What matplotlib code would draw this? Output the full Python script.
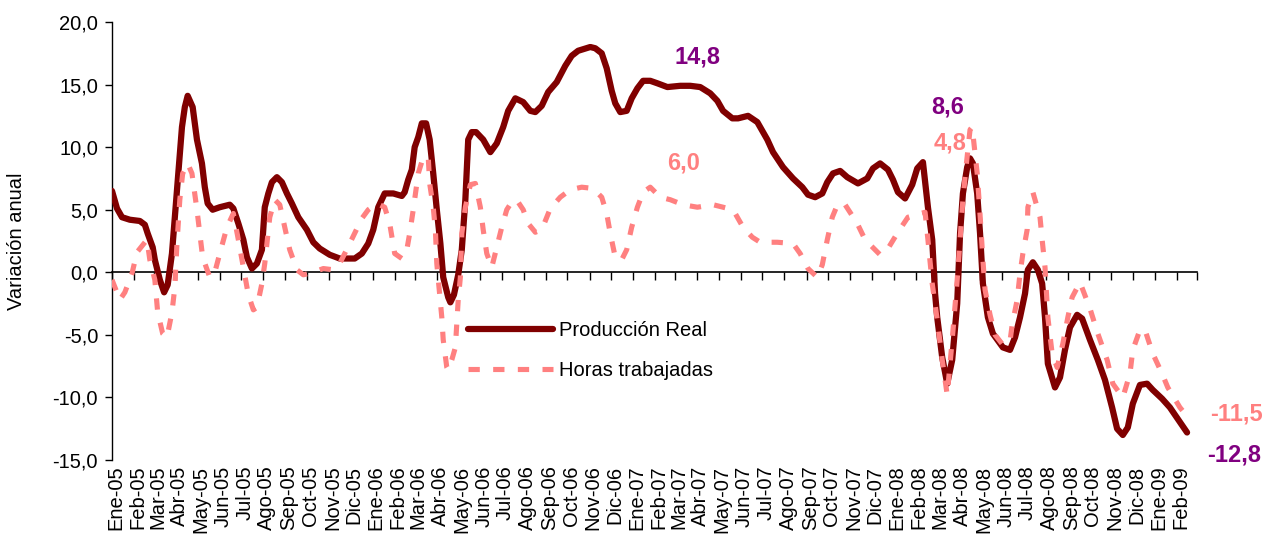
import numpy as np
import pandas as pd
import matplotlib
matplotlib.use("Agg")
import matplotlib.pyplot as plt
import matplotlib.dates as mdates

plt.rcParams['font.family'] = ['Liberation Sans', 'DejaVu Sans']

# dias desde 1-Ene-2005 y variacion anual (%)
dias_prod = [0, 7, 14, 25, 39, 46, 50, 57, 60, 67, 73, 78, 84, 88, 95, 98, 102, 106, 113, 119,
             126, 130, 134, 141, 151, 165, 170, 177, 184, 189, 196, 203, 210, 214, 219, 224, 231,
             238, 245, 252, 261, 273, 282, 291, 305, 319, 340, 350, 359, 366, 373, 382, 394, 406,
             410, 415, 420, 424, 429, 434, 440, 445, 450, 455, 460, 464, 471, 474, 479, 485, 490,
             495, 499, 504, 510, 520, 530, 539, 548, 555, 565, 576, 586, 593, 602, 611, 623, 635,
             644, 653, 670, 677, 686, 693, 700, 705, 712, 721, 728, 736, 744, 754, 764, 778, 796,
             810, 824, 838, 848, 856, 869, 877, 891, 904, 918, 926, 940, 954, 967, 975, 985, 995,
             1002, 1010, 1020, 1030, 1045, 1058, 1066, 1076, 1087, 1094, 1101, 1111, 1121, 1128,
             1136, 1143, 1149, 1153, 1156, 1163, 1170, 1177, 1184, 1188, 1192, 1198, 1202, 1206,
             1212, 1216, 1220, 1227, 1234, 1248, 1258, 1265, 1272, 1279, 1283, 1290, 1297, 1303,
             1307, 1311, 1321, 1328, 1335, 1342, 1352, 1359, 1370, 1381, 1391, 1401, 1408, 1416,
             1423, 1430, 1440, 1450, 1458, 1471, 1482, 1494, 1506]
produccion = [6.5, 5.1, 4.4, 4.2, 4.1, 3.8, 3.1, 2.0, 1.0, -0.6, -1.6, -1.0, 1.5, 4.4, 9.5, 11.6,
              13.2, 14.1, 13.2, 10.6, 8.7, 6.8, 5.5, 5.0, 5.2, 5.4, 5.1, 3.9, 2.6, 1.2, 0.3, 0.7,
              1.8, 5.2, 6.3, 7.2, 7.6, 7.2, 6.3, 5.5, 4.4, 3.4, 2.4, 1.9, 1.4, 1.1, 1.1, 1.5, 2.3,
              3.4, 5.2, 6.3, 6.3, 6.1, 6.4, 7.4, 8.2, 10.0, 10.8, 11.9, 11.9, 10.6, 7.9, 5.0, 2.3,
              -0.4, -2.0, -2.4, -1.8, -0.2, 1.8, 5.8, 10.6, 11.2, 11.2, 10.6, 9.6, 10.3, 11.6,
              12.9, 13.9, 13.6, 12.9, 12.8, 13.3, 14.4, 15.2, 16.5, 17.3, 17.7, 18.0, 17.9, 17.5,
              16.3, 14.5, 13.5, 12.8, 12.9, 13.9, 14.7, 15.3, 15.3, 15.1, 14.8, 14.9, 14.9, 14.8,
              14.3, 13.7, 12.9, 12.3, 12.3, 12.5, 12.0, 10.6, 9.6, 8.4, 7.5, 6.8, 6.2, 6.0, 6.3,
              7.2, 7.9, 8.1, 7.6, 7.1, 7.5, 8.3, 8.7, 8.2, 7.4, 6.4, 5.9, 7.0, 8.3, 8.8, 5.2, 2.6,
              -1.7, -3.6, -6.8, -8.9, -7.0, -2.5, 3.1, 6.3, 8.4, 9.1, 8.7, 6.3, 3.1, -0.9, -3.6,
              -4.9, -6.0, -6.2, -5.2, -3.6, -1.7, 0.2, 0.8, 0.2, -0.9, -3.6, -7.3, -9.2, -8.4,
              -6.2, -4.4, -3.4, -3.7, -5.4, -7.0, -8.6, -10.8, -12.5, -13.0, -12.4, -10.5, -9.0,
              -8.9, -9.4, -10.1, -10.8, -11.8, -12.8]

dias_horas = [0, 11, 18, 28, 35, 49, 53, 60, 64, 71, 77, 84, 88, 91, 95, 99, 106, 112, 119, 127,
              137, 144, 151, 161, 170, 177, 184, 191, 198, 203, 210, 214, 221, 228, 235, 242, 249,
              259, 268, 282, 296, 310, 319, 333, 350, 359, 371, 382, 389, 396, 406, 413, 417, 422,
              429, 436, 443, 445, 450, 453, 455, 462, 464, 469, 471, 476, 481, 483, 485, 488, 490,
              495, 502, 509, 516, 520, 525, 532, 539, 546, 553, 562, 569, 576, 583, 593, 602, 614,
              628, 642, 658, 674, 686, 693, 698, 705, 714, 721, 728, 736, 744, 754, 768, 782, 800,
              820, 842, 870, 884, 897, 908, 932, 954, 964, 975, 988, 995, 1002, 1009, 1017, 1027,
              1044, 1055, 1076, 1086, 1101, 1115, 1139, 1143, 1149, 1156, 1163, 1170, 1177, 1184,
              1188, 1192, 1196, 1202, 1205, 1212, 1216, 1220, 1223, 1230, 1237, 1248, 1258, 1261,
              1268, 1272, 1276, 1282, 1283, 1290, 1300, 1303, 1307, 1311, 1317, 1324, 1332, 1339,
              1345, 1356, 1370, 1381, 1394, 1402, 1416, 1426, 1430, 1440, 1447, 1458, 1471, 1479,
              1496, 1506]
horas = [-0.6, -2.2, -1.6, -0.1, 1.6, 2.6, 1.0, -0.6, -3.2, -4.9, -5.2, -3.2, -1.2, 2.3, 5.8, 7.9,
         8.7, 7.9, 5.0, 1.2, -0.4, 0.0, 1.5, 3.6, 4.7, 2.6, 0.4, -1.8, -3.0, -2.8, -0.9, 0.7, 4.4,
         5.8, 5.4, 3.6, 1.8, 0.2, -0.2, 0.0, 0.3, 0.2, 0.7, 2.3, 4.3, 5.0, 5.5, 5.2, 3.9, 1.5,
         1.1, 1.8, 3.1, 5.0, 7.9, 9.2, 9.2, 7.1, 5.2, 3.4, 0.7, -3.6, -5.4, -7.6, -7.8, -7.0,
         -6.0, -4.1, -2.2, -0.4, 3.1, 5.2, 7.0, 7.1, 5.2, 3.4, 1.5, 0.4, 2.0, 3.6, 5.0, 5.8, 5.6,
         5.0, 3.9, 3.2, 3.4, 5.1, 6.0, 6.6, 6.8, 6.7, 6.0, 4.7, 3.1, 1.2, 1.0, 1.8, 3.6, 5.2, 6.4,
         6.8, 6.0, 5.8, 5.4, 5.2, 5.4, 5.0, 3.6, 2.8, 2.4, 2.4, 2.3, 1.5, 0.3, -0.4, 0.6, 2.6,
         4.4, 5.5, 5.4, 3.9, 2.6, 1.4, 1.8, 3.2, 4.4, 4.8, 2.6, -0.9, -3.8, -7.0, -9.8, -5.4,
         -0.6, 2.6, 5.8, 8.2, 11.4, 11.6, 7.9, 4.6, 1.0, -1.4, -3.4, -5.0, -5.8, -5.5, -4.2,
         -2.2, -0.1, 1.5, 3.4, 5.2, 6.4, 4.4, 2.6, 0.4, -3.6, -6.5, -7.6, -5.7, -3.6, -2.0, -0.8,
         -2.9, -4.9, -7.0, -8.9, -10.0, -8.1, -6.2, -4.6, -4.6, -6.5, -8.1, -9.2, -10.8, -11.5]

meses = ['Ene', 'Feb', 'Mar', 'Abr', 'May', 'Jun', 'Jul', 'Ago', 'Sep', 'Oct', 'Nov', 'Dic']

inicio = pd.Timestamp('2005-01-01')
x_prod = mdates.date2num(inicio + pd.to_timedelta(dias_prod, unit='D'))
x_horas = mdates.date2num(inicio + pd.to_timedelta(dias_horas, unit='D'))

fechas_mes = pd.date_range('2005-01-01', '2009-03-01', freq='MS')
x_mes = mdates.date2num(fechas_mes)
etiquetas = [f"{meses[d.month - 1]}-{d.year % 100:02d}" for d in fechas_mes[:-1]]

ROJO = '#800000'
ROSA = '#FF8080'
MORADO = '#800080'

fig = plt.figure(figsize=(12.8, 5.4), dpi=100)
ax = fig.add_axes([0.0875, 0.1481, 0.8477, 0.8112])

ax.plot(x_prod, produccion, color=ROJO, lw=4.5, solid_joinstyle='round',
        solid_capstyle='round', label='Producción Real', zorder=3)
ax.plot(x_horas, horas, color=ROSA, lw=3.7, linestyle=(0, (2.2, 2.6)),
        dash_capstyle='butt', label='Horas trabajadas', zorder=4)

ax.set_xlim(x_mes[0], x_mes[-1])
ax.set_ylim(-15, 20)
ax.set_yticks(np.arange(-15, 21, 5))
ax.set_yticklabels([f"{v:.1f}".replace('.', ',') for v in np.arange(-15, 21, 5)])
ax.tick_params(axis='y', direction='out', length=5, width=1, labelsize=14.5, pad=5)
ax.set_ylabel('Variación anual', fontsize=14.5, labelpad=19)

# etiquetas de meses abajo, sin marcas
ax.set_xticks(x_mes[:-1] + 5)
ax.set_xticklabels(etiquetas, rotation=90, fontsize=14.5)
ax.tick_params(axis='x', length=0, pad=4)

for s in ['top', 'right', 'bottom']:
    ax.spines[s].set_visible(False)
ax.spines['left'].set_linewidth(1)

# eje horizontal en cero con marcas mensuales
eje0 = ax.secondary_xaxis(15 / 35)
eje0.set_xticks(x_mes)
eje0.tick_params(axis='x', direction='out', length=6, width=1, labelbottom=False)
eje0.spines['bottom'].set_linewidth(1.2)

bold = dict(fontsize=17, fontweight='bold', ha='center', va='center')
d = lambda n: mdates.date2num(inicio + pd.Timedelta(days=n))
ax.text(d(820), 17.2, '14,8', color=MORADO, **bold)
ax.text(d(801), 8.7, '6,0', color=ROSA, **bold)
ax.text(d(1170), 13.2, '8,6', color=MORADO, **bold)
ax.text(d(1174), 10.3, '4,8', color=ROSA, **bold)
ax.text(d(1575), -11.3, '-11,5', color=ROSA, clip_on=False, **bold)
ax.text(d(1572), -14.6, '-12,8', color=MORADO, clip_on=False, **bold)

ax.legend(loc='upper left', bbox_to_anchor=(0.366, 0.406), bbox_transform=fig.transFigure,
          frameon=False, fontsize=14.5, handlelength=4.2, handletextpad=0.3,
          labelspacing=1.05, borderpad=0, borderaxespad=0)

fig.savefig('out.png', dpi=100)
